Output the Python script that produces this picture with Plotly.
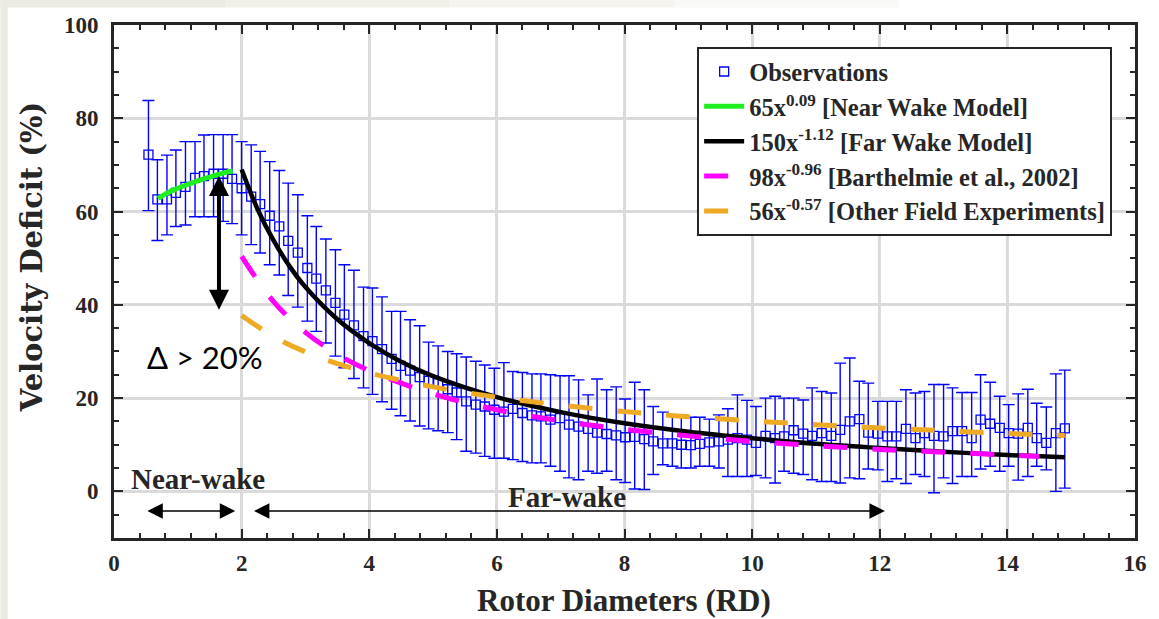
import plotly.graph_objects as go

# ---------------- data ----------------
x_obs = [0.54, 0.68, 0.83, 0.97, 1.12, 1.27, 1.41, 1.56, 1.71, 1.85,
         2.00, 2.15, 2.29, 2.44, 2.59, 2.73, 2.88, 3.03, 3.17, 3.32,
         3.47, 3.61, 3.76, 3.91, 4.05, 4.20, 4.35, 4.49, 4.64, 4.79,
         4.93, 5.08, 5.23, 5.37, 5.52, 5.67, 5.81, 5.96, 6.11, 6.25,
         6.40, 6.55, 6.69, 6.84, 6.99, 7.13, 7.28, 7.43, 7.57, 7.72,
         7.87, 8.01, 8.16, 8.31, 8.45, 8.60, 8.75, 8.89, 9.04, 9.18,
         9.33, 9.48, 9.62, 9.77, 9.92, 10.06, 10.21, 10.36, 10.50, 10.65,
         10.80, 10.94, 11.09, 11.24, 11.38, 11.53, 11.68, 11.82, 11.97, 12.12,
         12.26, 12.41, 12.56, 12.70, 12.85, 13.00, 13.14, 13.29, 13.44, 13.58,
         13.73, 13.88, 14.02, 14.17, 14.32, 14.46, 14.61, 14.76, 14.90]

obs_mean = [72.2, 62.6, 62.6, 64.0, 65.3, 67.2, 67.6, 68.1, 68.1, 67.0,
            65.0, 63.2, 61.6, 59.1, 56.8, 53.7, 51.2, 47.9, 45.6, 43.1,
            40.4, 37.9, 35.6, 33.3, 32.2, 30.5, 28.4, 26.9, 25.9, 24.5,
            23.7, 23.2, 21.9, 21.2, 19.3, 18.6, 18.2, 17.5, 17.1, 17.7,
            16.8, 16.3, 16.1, 15.4, 15.7, 14.3, 13.9, 13.4, 12.6, 12.3,
            12.0, 11.6, 11.7, 11.2, 10.7, 10.3, 10.3, 10.0, 9.9, 10.2,
            10.5, 10.7, 11.1, 11.4, 11.1, 10.4, 11.9, 11.4, 11.8, 13.1,
            12.4, 11.9, 12.5, 11.9, 13.2, 15.0, 15.5, 12.6, 12.4, 11.8,
            11.8, 13.4, 11.4, 12.5, 11.9, 11.8, 12.9, 12.9, 11.4, 15.4,
            14.5, 13.6, 12.5, 12.4, 13.6, 11.4, 10.4, 12.5, 13.5]

obs_upper = [83.8, 71.1, 72.1, 73.2, 75.0, 75.0, 76.4, 76.5, 76.5, 76.5,
             75.0, 74.3, 72.9, 70.7, 68.8, 66.1, 63.6, 59.1, 56.8, 54.1,
             51.8, 48.6, 47.4, 43.8, 43.6, 41.7, 38.6, 38.6, 36.8, 35.5,
             32.0, 31.2, 30.0, 29.5, 28.8, 27.9, 27.1, 26.4, 27.6, 25.7,
             25.5, 25.2, 25.2, 25.0, 24.8, 24.8, 23.9, 20.7, 24.1, 21.8,
             22.4, 19.8, 23.4, 21.8, 18.2, 17.0, 16.4, 16.4, 15.9, 15.9,
             15.5, 16.4, 17.7, 20.7, 19.5, 18.2, 20.0, 20.4, 20.0, 20.0,
             19.6, 22.2, 21.4, 21.1, 27.5, 28.6, 23.6, 23.2, 19.3, 19.3,
             19.3, 21.8, 21.1, 21.4, 22.9, 22.9, 22.2, 21.2, 21.2, 25.0,
             23.4, 20.4, 18.6, 20.9, 21.9, 18.9, 18.1, 25.2, 26.0]

obs_lower = [60.2, 53.8, 55.0, 56.8, 57.1, 58.9, 58.9, 58.9, 57.9, 57.4,
             55.0, 52.9, 51.1, 48.6, 46.4, 42.0, 39.5, 36.5, 34.3, 31.8,
             29.0, 26.5, 24.2, 22.2, 20.8, 19.2, 17.6, 16.2, 15.1, 14.0,
             13.4, 13.0, 12.6, 11.1, 8.6, 8.2, 7.5, 7.1, 7.1, 6.8,
             6.4, 6.1, 6.1, 5.4, 4.3, 2.9, 2.5, 4.3, 3.9, 4.3,
             2.5, 1.9, 0.5, 0.4, 3.6, 5.7, 5.4, 5.0, 5.0, 5.4,
             5.4, 5.0, 3.2, 3.2, 3.2, 3.4, 2.9, 1.8, 4.3, 3.9,
             3.6, 2.5, 2.1, 2.1, 1.8, 2.9, 2.7, 4.8, 4.6, 2.1,
             2.7, 1.7, 3.6, 3.2, -0.3, 2.9, 1.7, 3.2, 3.2, 4.8,
             5.4, 4.3, 5.4, 2.4, 3.2, 5.4, 4.6, 0.0, 0.7]

near_x = [0.69, 0.85, 1.00, 1.15, 1.30, 1.45, 1.60, 1.75, 1.86]
near_y = [62.8, 64.1, 65.0, 65.8, 66.5, 67.2, 67.8, 68.4, 68.7]

far_x = [2.0, 2.25, 2.5, 2.75, 3.0, 3.5, 4.0, 4.5, 5.0, 6.0, 7.0, 8.0,
         9.0, 10.0, 11.0, 12.0, 13.0, 14.0, 14.9]
far_y = [69.0, 60.5, 53.8, 48.3, 43.8, 36.9, 31.8, 27.8, 24.7, 20.2, 17.0, 14.6,
         12.8, 11.4, 10.2, 9.3, 8.5, 7.8, 7.3]

barth_x = [2.0, 2.5, 3.0, 3.5, 4.0, 5.0, 6.0, 7.0, 8.0, 9.0, 10.0, 11.0,
           12.0, 13.0, 14.0, 14.5]
barth_y = [50.4, 40.7, 34.1, 29.4, 25.9, 20.9, 17.5, 15.1, 13.3, 11.9, 10.7, 9.8,
           9.0, 8.4, 7.8, 7.5]

other_x = [2.0, 2.5, 3.0, 3.5, 4.0, 5.0, 6.0, 7.0, 8.0, 9.0, 10.0, 11.0,
           12.0, 13.0, 14.0, 14.9]
other_y = [37.7, 33.2, 29.9, 27.4, 25.4, 22.4, 20.2, 18.5, 17.1, 16.0, 15.1, 14.3,
           13.6, 13.0, 12.4, 12.0]

legend_names = ["Observations",
                "65x<sup>0.09</sup> [Near Wake Model]",
                "150x<sup>-1.12</sup> [Far Wake Model]",
                "98x<sup>-0.96</sup> [Barthelmie et al., 2002]",
                "56x<sup>-0.57</sup> [Other Field Experiments]"]

x_ticks = [0, 2, 4, 6, 8, 10, 12, 14, 16]
y_ticks = [0, 20, 40, 60, 80, 100]

# ---------------- figure ----------------
err_plus = [u - m for u, m in zip(obs_upper, obs_mean)]
err_minus = [m - l for m, l in zip(obs_mean, obs_lower)]

BLUE = "#0000FF"
INK = "#262626"
SERIF = "Liberation Serif"

fig = go.Figure()
fig.add_trace(go.Scatter(
    x=x_obs, y=obs_mean, mode="markers", name=legend_names[0],
    marker=dict(symbol="square-open", size=9, color=BLUE, line=dict(width=1.3, color=BLUE)),
    error_y=dict(type="data", symmetric=False, array=err_plus, arrayminus=err_minus,
                 color=BLUE, thickness=1.4, width=6),
))
fig.add_trace(go.Scatter(x=near_x, y=near_y, mode="lines", name=legend_names[1],
                         line=dict(color="#1FEE1F", width=5, shape="spline")))
fig.add_trace(go.Scatter(x=far_x, y=far_y, mode="lines", name=legend_names[2],
                         line=dict(color="#000000", width=4.5, shape="spline")))
fig.add_trace(go.Scatter(x=barth_x, y=barth_y, mode="lines", name=legend_names[3],
                         line=dict(color="#FF00FF", width=5, dash="24px,25px", shape="spline")))
fig.add_trace(go.Scatter(x=other_x, y=other_y, mode="lines", name=legend_names[4],
                         line=dict(color="#EDAA22", width=5, dash="24px,25px", shape="spline")))

axis_common = dict(
    ticks="inside", ticklen=9, tickwidth=2, tickcolor=INK,
    showline=True, linewidth=3, linecolor=INK, mirror="ticks",
    showgrid=True, gridcolor="#DADADA", gridwidth=2.5, zeroline=False,
    tickfont=dict(family=SERIF, size=23, color=INK, weight="bold"),
)

fig.update_layout(
    width=1159, height=619,
    margin=dict(l=114, r=20, t=25, b=81),
    paper_bgcolor="white", plot_bgcolor="white",
    font=dict(family=SERIF, size=20, color=INK, weight="bold"),
    showlegend=True,
    legend=dict(x=0.9776, y=0.957, xanchor="right", yanchor="top",
                bgcolor="white", bordercolor=INK, borderwidth=2,
                font=dict(family=SERIF, size=24.5, color=INK, weight="bold"),
                tracegroupgap=0, itemwidth=40),
    xaxis=dict(range=[0, 16], tickmode="array", tickvals=x_ticks,
               minor=dict(dtick=0.4, tick0=0, ticks="inside", ticklen=5, tickwidth=2,
                          tickcolor=INK, showgrid=False),
               ticklabelstandoff=2, **axis_common),
    yaxis=dict(range=[-10, 100], tickmode="array", tickvals=y_ticks,
               minor=dict(dtick=5, tick0=0, ticks="inside", ticklen=5, tickwidth=2,
                          tickcolor=INK, showgrid=False),
               ticklabelstandoff=8, **axis_common),
)

# axis titles
fig.add_annotation(text="Rotor Diameters (RD)", xref="paper", yref="paper",
                   x=0.4995, y=-0.122, xanchor="center", yanchor="middle", showarrow=False,
                   font=dict(family=SERIF, size=31, color=INK, weight="bold"))
fig.add_annotation(text="Velocity Deficit (%)", xref="paper", yref="paper",
                   x=-0.080, y=0.548, xanchor="center", yanchor="middle", showarrow=False,
                   textangle=-90,
                   font=dict(family="DejaVu Serif", size=29, color=INK, weight="bold"))

# in-plot annotations
fig.add_annotation(text="Δ > 20%", x=1.42, y=28.9, showarrow=False,
                   font=dict(family="Lato", size=31, color="#000000", weight="normal"))
fig.add_annotation(text="Near-wake", x=1.32, y=2.6, showarrow=False,
                   font=dict(family=SERIF, size=29, color=INK, weight="bold"))
fig.add_annotation(text="Far-wake", x=7.10, y=-1.2, showarrow=False,
                   font=dict(family=SERIF, size=29, color=INK, weight="bold"))

# arrows
fig.add_annotation(x=1.645, y=67.6, ax=1.645, ay=38.6, axref="x", ayref="y",
                   text="", showarrow=True, arrowside="end+start", arrowhead=2,
                   arrowsize=1.0, arrowwidth=4, arrowcolor="#000000",
                   standoff=0, startstandoff=0)
fig.add_annotation(x=1.90, y=-4.2, ax=0.50, ay=-4.2, axref="x", ayref="y",
                   text="", showarrow=True, arrowside="end+start", arrowhead=2,
                   arrowsize=2.2, arrowwidth=1.4, arrowcolor="#000000",
                   standoff=0, startstandoff=0)
fig.add_annotation(x=12.08, y=-4.2, ax=2.17, ay=-4.2, axref="x", ayref="y",
                   text="", showarrow=True, arrowside="end+start", arrowhead=2,
                   arrowsize=2.2, arrowwidth=1.4, arrowcolor="#000000",
                   standoff=0, startstandoff=0)

# faint slide background edges
fig.add_shape(type="rect", xref="paper", yref="paper", x0=-0.1113, x1=-0.1040,
              y0=-0.21, y1=1.05, fillcolor="#ECEBE2", line=dict(width=0), layer="below")
for i, op in enumerate([1.0, 0.8, 0.55, 0.3]):
    fig.add_shape(type="rect", xref="paper", yref="paper",
                  x0=-0.1113 + i * 0.22, x1=-0.1113 + (i + 1) * 0.22,
                  y0=1.034, y1=1.05, fillcolor="#ECEBE2", opacity=op,
                  line=dict(width=0), layer="below")

fig.write_html("out.html", config={"displayModeBar": False},
               post_script="document.body.style.margin='0px';")
